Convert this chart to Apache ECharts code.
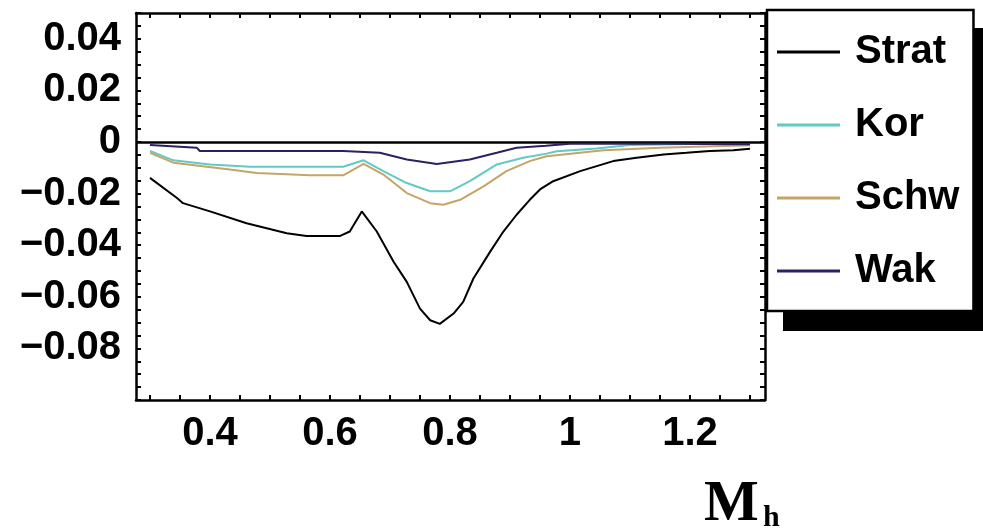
<!DOCTYPE html>
<html>
<head>
<meta charset="utf-8">
<script src="https://cdn.jsdelivr.net/npm/echarts@6/dist/echarts.min.js"></script>
<style>
html,body{margin:0;padding:0;background:#fff;}
#c{width:983px;height:532px;}
</style>
</head>
<body>
<div id="c"></div>
<script>
// ---- data ----
const seriesNames = ['Strat', 'Kor', 'Schw', 'Wak'];

const stratX = [0.30,0.345,0.355,0.40,0.461,0.528,0.561,0.617,0.633,0.653,0.678,0.706,0.728,0.75,0.767,0.783,0.806,0.822,0.839,0.867,0.889,0.911,0.933,0.95,0.972,1.017,1.072,1.111,1.156,1.194,1.233,1.272,1.30];
const stratY = [-0.0139,-0.0217,-0.0237,-0.0269,-0.0315,-0.0354,-0.0364,-0.0364,-0.0347,-0.0269,-0.0347,-0.0464,-0.0542,-0.0646,-0.0691,-0.0705,-0.0665,-0.062,-0.0529,-0.0425,-0.0347,-0.0282,-0.0224,-0.0184,-0.0152,-0.0113,-0.0074,-0.0061,-0.0048,-0.0042,-0.0035,-0.0032,-0.0026];

const korX = [0.30,0.339,0.40,0.467,0.622,0.656,0.689,0.728,0.767,0.80,0.833,0.878,0.922,0.961,0.978,1.044,1.10,1.20,1.30];
const korY = [-0.0035,-0.0071,-0.0087,-0.0096,-0.0096,-0.0071,-0.0113,-0.0159,-0.0191,-0.0191,-0.0152,-0.0087,-0.0061,-0.0045,-0.0036,-0.0025,-0.0012,-0.0008,-0.0005];

const schwX = [0.30,0.339,0.433,0.478,0.567,0.622,0.656,0.689,0.728,0.767,0.789,0.817,0.856,0.894,0.933,0.961,0.989,1.056,1.15,1.30];
const schwY = [-0.0042,-0.008,-0.0107,-0.012,-0.0129,-0.0129,-0.0085,-0.0126,-0.0198,-0.0237,-0.0243,-0.0224,-0.0172,-0.0113,-0.0074,-0.0055,-0.0048,-0.0032,-0.0022,-0.0013];

const wakX = [0.30,0.378,0.383,0.622,0.683,0.728,0.778,0.833,0.878,0.911,0.96,1.0,1.16,1.30];
const wakY = [-0.0012,-0.0022,-0.0035,-0.0035,-0.0042,-0.0068,-0.0085,-0.0068,-0.0042,-0.0022,-0.0015,-0.0007,-0.0007,-0.0009];

const xLabelValues = [0.4, 0.6, 0.8, 1, 1.2];
const xTickValues = [0.3,0.35,0.4,0.45,0.5,0.55,0.6,0.65,0.7,0.75,0.8,0.85,0.9,0.95,1.0,1.05,1.1,1.15,1.2,1.25,1.3];
const yLabelValues = [0.04, 0.02, 0, -0.02, -0.04, -0.06, -0.08];
const yTickValues = [-0.1,-0.095,-0.09,-0.085,-0.08,-0.075,-0.07,-0.065,-0.06,-0.055,-0.05,-0.045,-0.04,-0.035,-0.03,-0.025,-0.02,-0.015,-0.01,-0.005,0,0.005,0.01,0.015,0.02,0.025,0.03,0.035,0.04,0.045,0.05];

const colors = ['#000000', '#62c9c4', '#c4a566', '#2c2062'];
const axisTitle = 'M';
const axisSub = 'h';

// ---- chart ----
function pairs(xs, ys) { return xs.map((x, i) => [x, ys[i]]); }
const dataSets = [pairs(stratX, stratY), pairs(korX, korY), pairs(schwX, schwY), pairs(wakX, wakY)];

const fmtX = v => (Math.abs(v - 1) < 1e-9 ? '1' : String(Math.round(v * 10) / 10));
const fmtY = v => {
  if (Math.abs(v) < 1e-9) return '0';
  const s = Math.abs(v).toFixed(2);
  return v < 0 ? '\u2212' + s : s;
};

const labelFont = { fontFamily: 'Liberation Sans, Arial, sans-serif', fontWeight: 'bold', fontSize: 40, color: '#000' };
const lineAxis = { show: true, lineStyle: { color: '#000', width: 2.5 } };
const tickStyle = { show: true, inside: true, length: 5, lineStyle: { color: '#000', width: 2 } };

const chart = echarts.init(document.getElementById('c'), null, { renderer: 'canvas' });
chart.setOption({
  animation: false,
  backgroundColor: '#fff',
  grid: { left: 136, top: 13, right: 218, bottom: 132, containLabel: false },
  xAxis: [
    {
      type: 'value', position: 'bottom', min: 0.2767, max: 1.325,
      axisLine: Object.assign({ onZero: false }, lineAxis),
      axisTick: Object.assign({ customValues: xTickValues }, tickStyle),
      axisLabel: Object.assign({ customValues: xLabelValues, formatter: fmtX, margin: 14 }, labelFont),
      splitLine: { show: false }
    },
    {
      type: 'value', position: 'top', min: 0.2767, max: 1.325,
      axisLine: Object.assign({ onZero: false }, lineAxis),
      axisTick: Object.assign({ customValues: xTickValues }, tickStyle),
      axisLabel: { show: false },
      splitLine: { show: false }
    }
  ],
  yAxis: [
    {
      type: 'value', position: 'left', min: -0.1, max: 0.05,
      axisLine: Object.assign({ onZero: false }, lineAxis),
      axisTick: Object.assign({ customValues: yTickValues }, tickStyle),
      axisLabel: Object.assign({ customValues: yLabelValues, formatter: fmtY, margin: 15 }, labelFont),
      splitLine: { show: false }
    },
    {
      type: 'value', position: 'right', min: -0.1, max: 0.05,
      axisLine: Object.assign({ onZero: false }, lineAxis),
      axisTick: Object.assign({ customValues: yTickValues }, tickStyle),
      axisLabel: { show: false },
      splitLine: { show: false }
    }
  ],
  legend: {
    orient: 'vertical',
    left: 767, top: 10,
    padding: [19, 14, 17, 10],
    itemGap: 27,
    itemWidth: 63, itemHeight: 3,
    icon: 'rect',
    backgroundColor: '#fff',
    borderColor: '#000', borderWidth: 2.5,
    z: 20,
    textStyle: Object.assign({ lineHeight: 46, padding: [0, 0, 0, 10] }, labelFont),
    data: seriesNames
  },
  series: seriesNames.map((name, i) => {
    const s = {
      name: name, type: 'line', xAxisIndex: 0, yAxisIndex: 0,
      data: dataSets[i], showSymbol: false, symbol: 'none',
      smooth: false,
      lineStyle: { color: colors[i], width: 2 },
      itemStyle: { color: colors[i] },
      z: 3 + i
    };
    if (i === 0) {
      s.markLine = {
        silent: true, symbol: 'none', label: { show: false },
        lineStyle: { color: '#000', width: 2.5, type: 'solid' },
        data: [{ yAxis: 0 }]
      };
    }
    return s;
  }),
  graphic: [
    { type: 'rect', left: 783, top: 28, z: 15, silent: true,
      shape: { width: 210, height: 303 }, style: { fill: '#000' } },
    { type: 'text', left: 704, top: 476, z: 10,
      style: { text: axisTitle, font: 'bold 58px "Liberation Serif", "Times New Roman", serif', fill: '#000' } },
    { type: 'text', left: 763, top: 503, z: 10,
      style: { text: axisSub, font: 'bold 30px "Liberation Serif", "Times New Roman", serif', fill: '#000' } }
  ]
});
</script>
</body>
</html>
